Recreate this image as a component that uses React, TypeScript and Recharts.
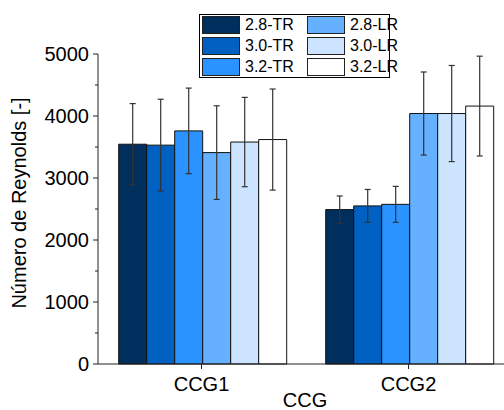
import React from 'react';
import { BarChart, Bar, XAxis, YAxis, ErrorBar, Label } from 'recharts';

// categories and series
const categories = ['CCG1', 'CCG2'];
const seriesNames = ['2.8-TR', '3.0-TR', '3.2-TR', '2.8-LR', '3.0-LR', '3.2-LR'];
const colors = ['#002F5E', '#0061C2', '#2A93FF', '#65B1FF', '#CCE4FF', '#FFFFFF'];

// mean Reynolds number per series, [CCG1, CCG2]
const tr28 = [3545, 2490];
const tr30 = [3530, 2550];
const tr32 = [3760, 2575];
const lr28 = [3410, 4040];
const lr30 = [3580, 4040];
const lr32 = [3620, 4160];

// standard deviations, [CCG1, CCG2]
const tr28Err = [655, 220];
const tr30Err = [740, 265];
const tr32Err = [690, 290];
const lr28Err = [755, 670];
const lr30Err = [720, 775];
const lr32Err = [815, 805];

const yTicks = [0, 500, 1000, 1500, 2000, 2500, 3000, 3500, 4000, 4500, 5000];

const means = [tr28, tr30, tr32, lr28, lr30, lr32];
const errs = [tr28Err, tr30Err, tr32Err, lr28Err, lr30Err, lr32Err];

const data = categories.map((cat, ci) => {
  const row: any = { cat };
  means.forEach((m, si) => {
    row['s' + si] = m[ci];
    row['e' + si] = errs[si][ci];
  });
  return row;
});

const FONT = '"Liberation Sans", Arial, sans-serif';

// major ticks get a label, minor ones just a short mark
const YTick = (props: any) => {
  const { x, y, payload } = props;
  const major = payload.value % 1000 === 0;
  return (
    <g>
      <line x1={x - (major ? 5 : 3)} y1={y} x2={x} y2={y} stroke="#222" strokeWidth={1} />
      {major && (
        <text x={x - 9} y={y} dy="0.36em" textAnchor="end" fontSize={20} fill="#000" fontFamily={FONT}>
          {payload.value}
        </text>
      )}
    </g>
  );
};

const YLabel = (props: any) => {
  const vb = props.viewBox;
  const cy = vb.y + vb.height / 2 - 6;
  return (
    <text
      x={19}
      y={cy}
      transform={`rotate(-90, 19, ${cy})`}
      textAnchor="middle"
      dominantBaseline="central"
      fontSize={20}
      fill="#000"
      fontFamily={FONT}
    >
      Número de Reynolds [-]
    </text>
  );
};

const ChartLegend = () => (
  <div
    style={{
      position: 'absolute',
      left: 199,
      top: 14,
      width: 191,
      height: 64,
      border: '1px solid #000',
      boxSizing: 'border-box',
      background: '#fff',
      fontFamily: FONT,
      fontSize: 16,
    }}
  >
    {seriesNames.map((name, i) => {
      const col = i < 3 ? 0 : 1;
      const row = i % 3;
      return (
        <React.Fragment key={name}>
          <div
            style={{
              position: 'absolute',
              left: 2 + col * 105,
              top: 1 + row * 21,
              width: 38,
              height: 18,
              boxSizing: 'border-box',
              border: '1px solid #222',
              background: colors[i],
            }}
          />
          <div
            style={{
              position: 'absolute',
              left: 45 + col * 105,
              top: 1 + row * 21,
              height: 18,
              lineHeight: '18px',
              whiteSpace: 'nowrap',
              color: '#000',
            }}
          >
            {name}
          </div>
        </React.Fragment>
      );
    })}
  </div>
);

export default function App() {
  return (
    <div
      style={{
        position: 'absolute',
        left: 0,
        top: 0,
        width: 504,
        height: 410,
        overflow: 'hidden',
        background: '#fff',
      }}
    >
      <BarChart
        width={512}
        height={410}
        data={data}
        margin={{ top: 54, right: 0, bottom: 0, left: 0 }}
        barCategoryGap="10%"
        barGap={0}
      >
        <XAxis
          dataKey="cat"
          height={46}
          axisLine={{ stroke: '#222' }}
          tickLine={{ stroke: '#222' }}
          tickSize={5}
          tickMargin={8}
          tick={{ fontSize: 20, fill: '#000', fontFamily: FONT }}
        >
          <Label value="CCG" position="insideBottom" offset={3} fontSize={20} fill="#000" fontFamily={FONT} />
        </XAxis>
        <YAxis
          width={98}
          domain={[0, 5000]}
          ticks={yTicks}
          interval={0}
          tickSize={0}
          tickMargin={0}
          axisLine={{ stroke: '#222' }}
          tickLine={false}
          tick={<YTick />}
          label={<YLabel />}
        />
        {seriesNames.map((name, si) => (
          <Bar
            key={name}
            dataKey={'s' + si}
            name={name}
            fill={colors[si]}
            stroke="#111"
            strokeWidth={1}
            isAnimationActive={false}
          >
            <ErrorBar dataKey={'e' + si} width={3} stroke="#333" strokeWidth={1.2} direction="y" />
          </Bar>
        ))}
      </BarChart>
      <ChartLegend />
    </div>
  );
}
